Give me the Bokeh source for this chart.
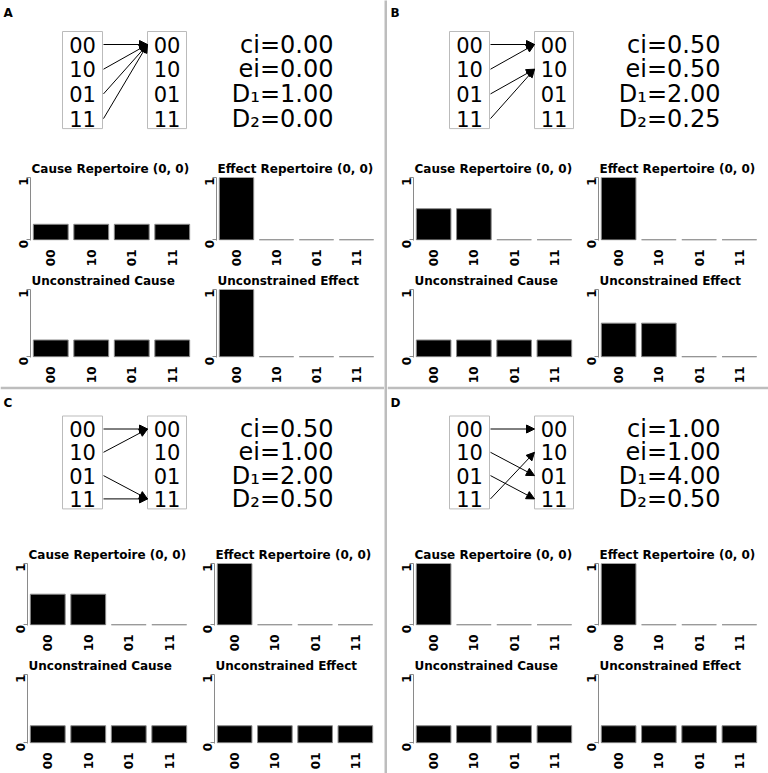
import math
from bokeh.plotting import figure
from bokeh.layouts import row, column
from bokeh.models import Range1d, FixedTicker, Arrow, NormalHead, ColumnDataSource
from bokeh.core.properties import value
from bokeh.embed import file_html
from bokeh.resources import INLINE

FONT = "DejaVu Sans"

# ---------------- data ----------------
states = ["00", "10", "01", "11"]
panel_labels = ["A", "B", "C", "D"]

ci_vals = [0.00, 0.50, 0.50, 1.00]
ei_vals = [0.00, 0.50, 1.00, 1.00]
d1_vals = [1.00, 2.00, 2.00, 4.00]
d2_vals = [0.00, 0.25, 0.50, 0.50]

# transition targets (index into states) for each source state
trans_A = [0, 0, 0, 0]
trans_B = [0, 0, 1, 1]
trans_C = [0, 0, 3, 3]
trans_D = [0, 2, 3, 1]

chart_titles = ["Cause Repertoire (0, 0)", "Effect Repertoire (0, 0)",
                "Unconstrained Cause", "Unconstrained Effect"]

cause_A = [0.25, 0.25, 0.25, 0.25]
effect_A = [1.0, 0.0, 0.0, 0.0]
ucause_A = [0.25, 0.25, 0.25, 0.25]
ueffect_A = [1.0, 0.0, 0.0, 0.0]

cause_B = [0.5, 0.5, 0.0, 0.0]
effect_B = [1.0, 0.0, 0.0, 0.0]
ucause_B = [0.25, 0.25, 0.25, 0.25]
ueffect_B = [0.5, 0.5, 0.0, 0.0]

cause_C = [0.5, 0.5, 0.0, 0.0]
effect_C = [1.0, 0.0, 0.0, 0.0]
ucause_C = [0.25, 0.25, 0.25, 0.25]
ueffect_C = [0.25, 0.25, 0.25, 0.25]

cause_D = [1.0, 0.0, 0.0, 0.0]
effect_D = [1.0, 0.0, 0.0, 0.0]
ucause_D = [0.25, 0.25, 0.25, 0.25]
ueffect_D = [0.25, 0.25, 0.25, 0.25]

DIV = "#bdbdbd"


def bar_fig(title, vals, width, height, bl, br, bt, bb):
    p = figure(x_range=states, y_range=Range1d(-0.01, 1.0), width=width, height=height,
               title=title, toolbar_location=None, output_backend="svg",
               min_border_left=bl, min_border_right=br, min_border_top=bt, min_border_bottom=bb)
    src = ColumnDataSource(dict(s=states, v=vals))
    p.vbar(x="s", top="v", width=0.86, source=src, fill_color="black",
           line_color="#8a8a8a", line_width=1)
    p.xgrid.visible = False
    p.ygrid.visible = False
    p.outline_line_color = None
    p.title.text_font = FONT
    p.title.text_font_size = "12px"
    p.title.text_font_style = "bold"
    p.title.text_color = "black"
    p.title.standoff = 3
    p.title.offset = 1
    ya = p.yaxis[0]
    ya.ticker = FixedTicker(ticks=[0, 1])
    ya.axis_line_color = "#8a8a8a"
    ya.major_tick_line_color = "#8a8a8a"
    ya.major_tick_out = 4
    ya.major_tick_in = 0
    ya.minor_tick_line_color = None
    ya.major_label_orientation = math.pi / 2
    ya.major_label_standoff = 3
    ya.major_label_text_font = FONT
    ya.major_label_text_font_size = "12px"
    ya.major_label_text_font_style = "bold"
    ya.major_label_text_color = "black"
    xa = p.xaxis[0]
    xa.axis_line_color = None
    xa.major_tick_line_color = None
    xa.minor_tick_line_color = None
    xa.major_label_orientation = math.pi / 2
    xa.major_label_standoff = 3
    xa.major_label_text_font = FONT
    xa.major_label_text_font_size = "12px"
    xa.major_label_text_font_style = "bold"
    xa.major_label_text_color = "black"
    return p


def diag_fig(label, trans, k, width, height, hr, y0, pitch, label_y, top_strip):
    p = figure(width=width, height=height + top_strip, x_range=Range1d(0, width),
               y_range=Range1d(hr, 0), toolbar_location=None, output_backend="svg",
               min_border=0, min_border_top=top_strip,
               x_axis_type=None, y_axis_type=None, outline_line_color=None,
               border_fill_color=DIV if top_strip else "white",
               background_fill_color="white")
    ys = [y0 + pitch * i for i in range(len(states))]
    top = y0 - 13
    bot = ys[-1] + 10
    p.quad(left=[62, 147], right=[102, 186], top=[top, top], bottom=[bot, bot],
           fill_color=None, line_color="#bbbbbb", line_width=1)
    for cx in (82, 166.5):
        p.text(x=[cx] * 4, y=ys, text=states, text_align="center", text_baseline="middle",
               text_font=value(FONT), text_font_size="21px", text_color="black")
    asrc = ColumnDataSource(dict(x0=[103] * 4, y0=ys, x1=[147] * 4, y1=[ys[t] for t in trans]))
    p.add_layout(Arrow(end=NormalHead(size=8, fill_color="black", line_color="black", line_width=1),
                       x_start="x0", y_start="y0", x_end="x1", y_end="y1", source=asrc,
                       line_color="black", line_width=1))
    stats = [f"ci={ci_vals[k]:.2f}", f"ei={ei_vals[k]:.2f}",
             f"D\u2081={d1_vals[k]:.2f}", f"D\u2082={d2_vals[k]:.2f}"]
    p.text(x=[333] * 4, y=ys, text=stats, text_align="right", text_baseline="middle",
           text_font=value(FONT), text_font_size="24px", text_color="black")
    p.text(x=[3], y=[label_y], text=[label], text_align="left", text_baseline="middle",
           text_font=value(FONT), text_font_size="12px", text_font_style="bold",
           text_color="black")
    return p


def quadrant(k, trans, series, qwidth, top_half, borders):
    if top_half:
        dh, hr, y0, pitch, ly, strip = 157, 157, 44, 24.7, 12, 0
        rows = [(112, 20, 69), (117, 20, 69)]
    else:
        dh, hr, y0, pitch, ly, strip = 154, 154, 39.5, 23.3, 13, 3
        rows = [(111, 20, 70), (119, 20, 69)]
    d = diag_fig(panel_labels[k], trans, k, qwidth, dh, hr, y0, pitch, ly, strip)
    figs = []
    for i, vals in enumerate(series):
        w, bl, br = borders[i % 2]
        h, bt, fh = rows[i // 2]
        figs.append(bar_fig(chart_titles[i], vals, w, h, bl, br, bt, h - bt - fh))
    return column(d, row(figs[0], figs[1]), row(figs[2], figs[3]))


def vdivider(w, h):
    p = figure(width=w, height=h, toolbar_location=None, output_backend="svg", min_border=0,
               x_axis_type=None, y_axis_type=None, outline_line_color=None,
               background_fill_color=DIV, border_fill_color=DIV)
    return p


qA = quadrant(0, trans_A, [cause_A, effect_A, ucause_A, ueffect_A], 384, True,
              [(192, 30, 0), (192, 24, 8)])
qB = quadrant(1, trans_B, [cause_B, effect_B, ucause_B, ueffect_B], 381, True,
              [(190, 26, 3), (191, 21, 9)])
qC = quadrant(2, trans_C, [cause_C, effect_C, ucause_C, ueffect_C], 384, False,
              [(190, 27, 1), (194, 24, 9)])
qD = quadrant(3, trans_D, [cause_D, effect_D, ucause_D, ueffect_D], 381, False,
              [(190, 26, 3), (191, 21, 9)])

left = column(qA, qC)
right = column(qB, qD)
layout = row(left, vdivider(3, 773), right)

open("out.html", "w").write(file_html(layout, INLINE))
